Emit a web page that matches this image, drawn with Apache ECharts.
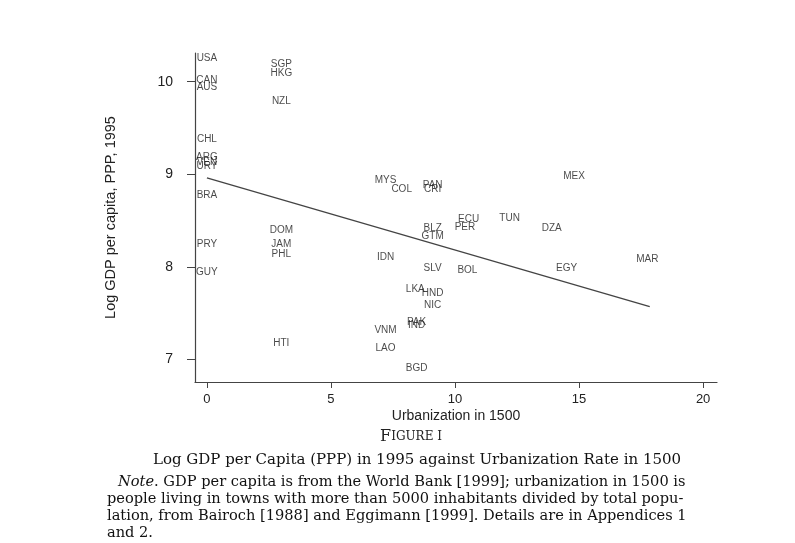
<!DOCTYPE html>
<html>
<head>
<meta charset="utf-8">
<script src="https://cdn.jsdelivr.net/npm/echarts@6/dist/echarts.min.js"></script>
<style>
html,body{margin:0;padding:0;background:#fff;}
#c{width:795px;height:543px;}
</style>
</head>
<body>
<div id="c"></div>
<script>
// Country codes, urbanization in 1500 (%), log GDP per capita 1995
const codes = ['USA','SGP','HKG','CAN','AUS','NZL','CHL','ARG','VEN','URY','BRA','DOM','PRY','JAM','PHL','GUY','HTI',
  'MYS','COL','PAN','CRI','ECU','PER','TUN','DZA','BLZ','GTM','IDN','SLV','BOL','MEX','EGY','MAR',
  'LKA','HND','NIC','PAK','IND','VNM','LAO','BGD'];
const urban = [0,3,3,0,0,3,0,0,0,0,0,3,0,3,3,0,3,
  7.2,7.85,9.1,9.1,10.55,10.4,12.2,13.9,9.1,9.1,7.2,9.1,10.5,14.8,14.5,17.75,
  8.4,9.1,9.1,8.45,8.45,7.2,7.2,8.45];
const gdp = [10.25,10.19,10.09,10.02,9.94,9.79,9.38,9.18,9.13,9.09,8.77,8.40,8.24,8.24,8.13,7.94,7.17,
  8.93,8.84,8.88,8.84,8.51,8.43,8.52,8.42,8.42,8.33,8.10,7.98,7.96,8.98,7.98,8.08,
  7.76,7.71,7.58,7.40,7.37,7.31,7.12,6.90];
// Fitted line endpoints [urbanization, log GDP]
const fitX = [0, 17.85];
const fitY = [8.96, 7.57];
const xTicks = [0,5,10,15,20];
const yTicks = [7,8,9,10];

const pts = codes.map((c,i)=>[urban[i], gdp[i], c]);
const fit = fitX.map((x,i)=>[x, fitY[i]]);

const chart = echarts.init(document.getElementById('c'), null, {renderer:'canvas'});
const sans = 'Liberation Sans';
const serif = 'DejaVu Serif';
chart.setOption({
  animation:false,
  backgroundColor:'#ffffff',
  grid:{left:195, right:78, top:53, bottom:161, containLabel:false},
  xAxis:{
    type:'value', min:-0.48, max:20.56,
    name:'Urbanization in 1500', nameLocation:'middle', nameGap:27, nameMoveOverlap:false,
    nameTextStyle:{fontFamily:sans, fontSize:14, color:'#222'},
    axisLine:{show:true, onZero:false, lineStyle:{color:'#444', width:1.2}},
    axisTick:{show:true, length:6, inside:false, customValues:xTicks, lineStyle:{color:'#444'}},
    axisLabel:{customValues:xTicks, fontFamily:sans, fontSize:13, color:'#222', margin:11},
    splitLine:{show:false}
  },
  yAxis:{
    type:'value', min:6.755, max:10.31,
    name:'Log GDP per capita, PPP, 1995', nameLocation:'middle', nameGap:77, nameRotate:90,
    nameTextStyle:{fontFamily:sans, fontSize:14.5, color:'#222'},
    axisLine:{show:true, onZero:false, lineStyle:{color:'#444', width:1.2}},
    axisTick:{show:true, length:8, customValues:yTicks, lineStyle:{color:'#444'}},
    axisLabel:{customValues:yTicks, fontFamily:sans, fontSize:14, color:'#222', margin:22},
    splitLine:{show:false}
  },
  series:[
    {
      type:'line', data:fit, symbol:'none', silent:true,
      lineStyle:{color:'#444', width:1.3}
    },
    {
      type:'scatter', data:pts, symbolSize:1,
      itemStyle:{color:'rgba(0,0,0,0)'},
      label:{show:true, position:'inside', formatter:p=>p.data[2],
        fontFamily:sans, fontSize:10, color:'#1a1a1a'},
      labelLayout:{hideOverlap:false}
    }
  ],
  graphic:[
    {type:'text', x:411, y:437, style:{
      text:'{a|F}{b|IGURE I}', align:'center', verticalAlign:'middle',
      rich:{a:{fontFamily:serif, fontSize:16, fill:'#222'}, b:{fontFamily:serif, fontSize:12, fill:'#222'}}
    }},
    {type:'text', x:417, y:460, style:{text:'Log GDP per Capita (PPP) in 1995 against Urbanization Rate in 1500',
      fontFamily:serif, fontSize:15, fill:'#111', align:'center', verticalAlign:'middle'}},
    {type:'text', x:118, y:482, style:{text:'{i|Note}{r|. GDP per capita is from the World Bank [1999]; urbanization in 1500 is}',
      rich:{i:{fontFamily:serif, fontStyle:'italic', fontSize:14.6, fill:'#111'}, r:{fontFamily:serif, fontSize:14.6, fill:'#111'}},
      verticalAlign:'middle'}},
    {type:'text', x:107, y:499, style:{text:'people living in towns with more than 5000 inhabitants divided by total popu-',
      fontFamily:serif, fontSize:14.6, fill:'#111', verticalAlign:'middle'}},
    {type:'text', x:107, y:516, style:{text:'lation, from Bairoch [1988] and Eggimann [1999]. Details are in Appendices 1',
      fontFamily:serif, fontSize:14.6, fill:'#111', verticalAlign:'middle'}},
    {type:'text', x:107, y:533, style:{text:'and 2.',
      fontFamily:serif, fontSize:14.6, fill:'#111', verticalAlign:'middle'}}
  ]
});
</script>
</body>
</html>
